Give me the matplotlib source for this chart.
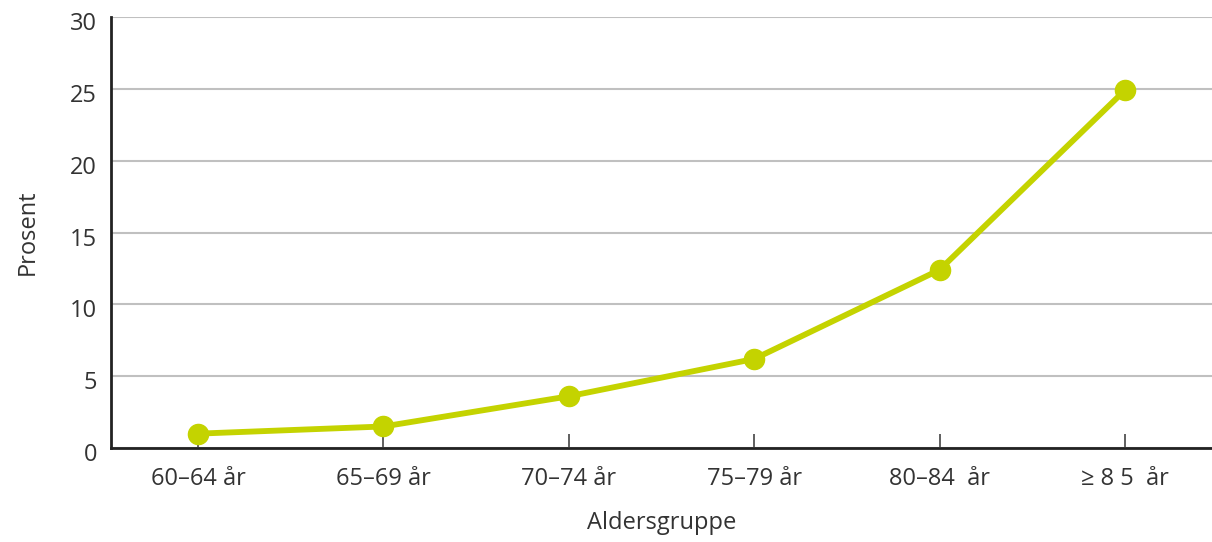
import matplotlib
matplotlib.use("Agg")
import matplotlib.pyplot as plt
import matplotlib.transforms as mtransforms

# data
grupper = ["60–64 år", "65–69 år", "70–74 år", "75–79 år", "80–84  år", "≥ 8 5  år"]
prosent = [1.0, 1.5, 3.6, 6.2, 12.4, 24.9]
yticks = [0, 5, 10, 15, 20, 25, 30]

plt.rcParams["font.family"] = ["Open Sans", "DejaVu Sans"]

fig = plt.figure(figsize=(12.12, 5.42), dpi=100)
ax = fig.add_axes([0.0916, 0.1734, 0.9084, 0.7952])

x = list(range(len(grupper)))
ax.plot(x, prosent, color="#c4d300", linewidth=4.2, marker="o",
        markersize=14.5, zorder=3, clip_on=False)

ax.set_xlim(-0.47, 5.47)
ax.set_ylim(0, 30)
ax.set_yticks(yticks)
ax.set_xticks(x)
ax.set_xticklabels(grupper)

ax.grid(axis="y", color="#c0c0c0", linewidth=1.5)
ax.set_axisbelow(True)

for s in ["top", "right"]:
    ax.spines[s].set_visible(False)
ax.spines["left"].set_linewidth(2)
ax.spines["bottom"].set_linewidth(2)
ax.spines["left"].set_color("#222222")
ax.spines["bottom"].set_color("#222222")

ax.tick_params(axis="y", length=0, pad=10, labelsize=17, labelcolor="#333333")
ax.tick_params(axis="x", direction="in", length=10, width=1.2, color="#444444",
               pad=14, labelsize=17, labelcolor="#333333")

# y labels sit a little below their gridlines
off = mtransforms.ScaledTranslation(0, -4 / 100, fig.dpi_scale_trans)
for lab in ax.get_yticklabels():
    lab.set_transform(lab.get_transform() + off)

ax.set_ylabel("Prosent", fontsize=17, color="#333333", labelpad=22)
ax.set_xlabel("Aldersgruppe", fontsize=17, color="#333333", labelpad=14)

fig.savefig("out.png", dpi=100)
